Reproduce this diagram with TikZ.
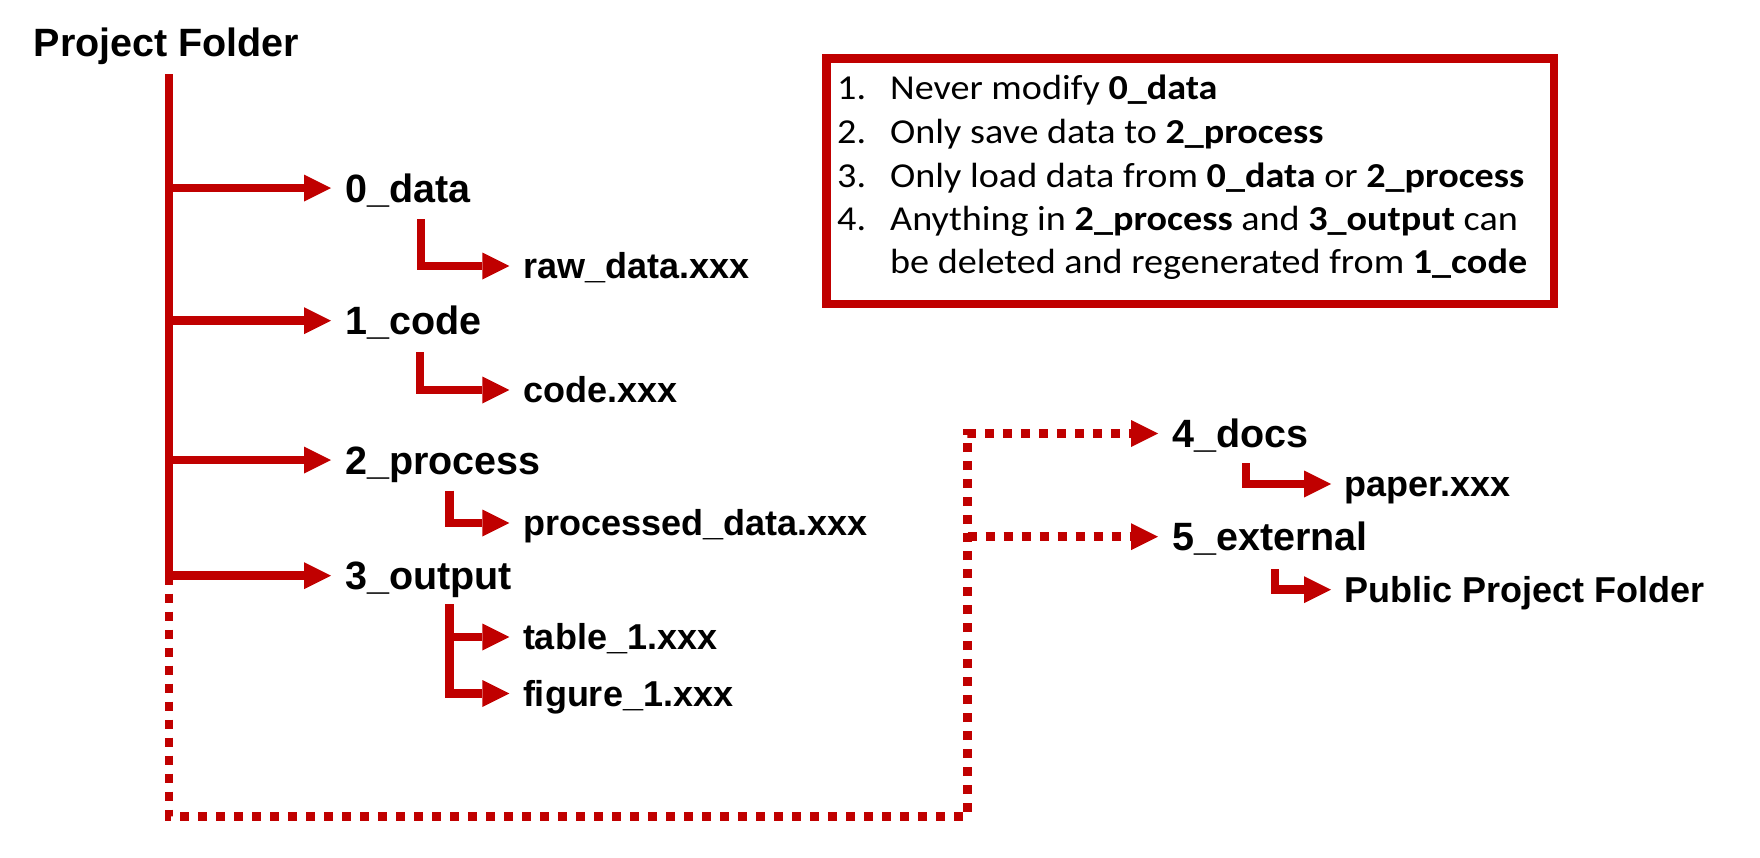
\documentclass[tikz,border=0pt]{standalone}
\usepackage{fontspec}
\setmainfont{Liberation Sans}
\newfontfamily\boxfont[FakeStretch=1.09]{Carlito}
\usetikzlibrary{arrows.meta}
\definecolor{dred}{HTML}{C00000}
\begin{document}
\begin{tikzpicture}[x=1pt,y=-1pt,
  lbl/.style={font=\bfseries\fontsize{39.5}{47}\selectfont, text height=28.3pt, text depth=0pt, inner ysep=0pt, inner xsep=14pt, anchor=west},
  sublbl/.style={font=\bfseries\fontsize{36}{43}\selectfont, text height=25.8pt, text depth=0pt, inner ysep=0pt, inner xsep=13.5pt, anchor=west},
  trunk/.style={draw=dred, line width=8.5pt},
  arr/.style={trunk, -{Triangle[length=27pt,width=27pt,line width=0pt]}},
  dotarr/.style={arr, dash pattern=on 9pt off 9pt},
  rule/.style={font=\boxfont\fontsize{35}{41}\selectfont, inner sep=0pt, anchor=base west}]
\useasboundingbox (0,0) rectangle (1760,857);
% title
\node[font=\bfseries\fontsize{39.5}{47}\selectfont, inner sep=0pt, anchor=base west] (pf) at (33.5,56.7) {Project Folder};
\coordinate (top) at (169,74);
% main folders
\node[lbl] (d0) at (331,188) {0\_data};
\node[lbl] (d1) at (331,320.7) {1\_code};
\node[lbl] (d2) at (331,460) {2\_process};
\node[lbl] (d3) at (331,575.7) {3\_output};
\node[lbl] (d4) at (1158,433.5) {4\_docs};
\node[lbl] (d5) at (1158,536.7) {5\_external};
% files
\node[sublbl] (f0) at (509.3,266) {raw\_data.xxx};
\node[sublbl] (f1) at (509.3,390) {code.xxx};
\node[sublbl] (f2) at (509.3,523) {processed\_data.xxx};
\node[sublbl] (f3a) at (509.3,637) {table\_1.xxx};
\node[sublbl] (f3b) at (509.3,693.5) {figure\_1.xxx};
\node[sublbl] (f4) at (1331,484) {paper.xxx};
\node[sublbl] (f5) at (1331,589.7) {Public Project Folder};
% elbow starts
\coordinate (e0) at (421,219.3);
\coordinate (e1) at (420,352.3);
\coordinate (e2) at (449.5,490.7);
\coordinate (e3) at (449.5,604.3);
\coordinate (e4) at (1246,463);
\coordinate (e5) at (1275,569.3);
% trunk and branches
\draw[arr] (top) -- (top |- d3.west) -- (d3.west);
\draw[arr] (top |- d0.west) -- (d0.west);
\draw[arr] (top |- d1.west) -- (d1.west);
\draw[arr] (top |- d2.west) -- (d2.west);
% dotted route
\coordinate (c1) at (169,816.7);
\coordinate (c2) at (967.5,816.7);
\draw[dotarr] (top |- d3.west) -- (c1) -- (c2) -- (c2 |- d4.west) -- (d4.west);
\draw[dotarr] (c2 |- d5.west) -- (d5.west);
% sub branches
\draw[arr] (e0) -- (e0 |- f0.west) -- (f0.west);
\draw[arr] (e1) -- (e1 |- f1.west) -- (f1.west);
\draw[arr] (e2) -- (e2 |- f2.west) -- (f2.west);
\draw[arr] (e3) -- (e3 |- f3b.west) -- (f3b.west);
\draw[arr] (e3 |- f3a.west) -- (f3a.west);
\draw[arr] (e4) -- (e4 |- f4.west) -- (f4.west);
\draw[arr] (e5) -- (e5 |- f5.west) -- (f5.west);
% rules box
\node[draw=dred, line width=8.8pt, minimum width=727.8pt, minimum height=245.7pt, inner sep=0pt, anchor=north west] (rules) at (821.7,53.8) {};
\node[rule] (n1) at (837,99) {1.};
\node[rule] (l1) at (890,99) {Never modify \textbf{0\_data}};
\node[rule] (n2) at (837,143) {2.};
\node[rule] (l2) at (890,143) {Only save data to \textbf{2\_process}};
\node[rule] (n3) at (837,187) {3.};
\node[rule] (l3) at (890,187) {Only load data from \textbf{0\_data} or \textbf{2\_process}};
\node[rule] (n4) at (837,230.5) {4.};
\node[rule] (l4) at (890,230.5) {Anything in \textbf{2\_process} and \textbf{3\_output} can};
\node[rule] (l5) at (890,273) {be deleted and regenerated from \textbf{1\_code}};
\end{tikzpicture}
\end{document}
